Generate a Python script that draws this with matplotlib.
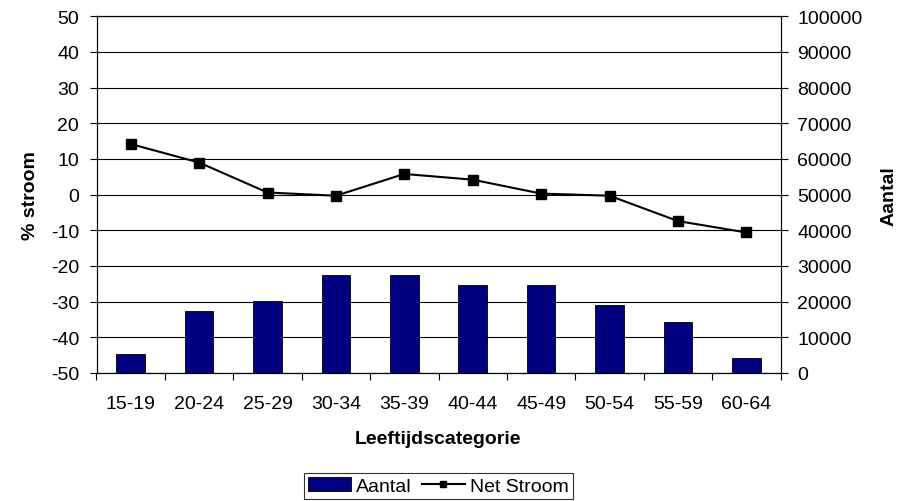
import matplotlib
matplotlib.use("Agg")
import matplotlib.pyplot as plt
from matplotlib.lines import Line2D
from matplotlib.patches import Patch

categories = ["15-19", "20-24", "25-29", "30-34", "35-39", "40-44", "45-49", "50-54", "55-59", "60-64"]
aantal = [5300, 17500, 20300, 27400, 27400, 24800, 24800, 19200, 14300, 4300]
net_stroom = [14.2, 9.0, 0.6, -0.3, 5.8, 4.2, 0.3, -0.3, -7.4, -10.6]

plt.rcParams['font.family'] = ['Liberation Sans', 'DejaVu Sans']
plt.rcParams['axes.unicode_minus'] = False
FS = 14

fig = plt.figure(figsize=(8.99, 5.02), dpi=100)
W, H = 899, 502
L, R, T, B = 96.5, 780.5, 17.3, 374
ax = fig.add_axes([L / W, 1 - B / H, (R - L) / W, (B - T) / H])
ax2 = ax.twinx()
ax.set_zorder(ax2.get_zorder() + 1)
ax.patch.set_visible(False)

x = list(range(len(categories)))

ax2.set_ylim(0, 100000)
ax2.set_yticks(range(0, 100001, 10000))
ax2.set_axisbelow(True)
ax2.yaxis.grid(True, color='black', linewidth=0.8)
ax2.bar(x, aantal, width=0.42, color='#000080', edgecolor='black', linewidth=0.6, zorder=2)

ax.plot(x, net_stroom, color='black', linewidth=1.5, marker='s', markersize=6.5,
        markerfacecolor='black', markeredgecolor='black', zorder=3)
ax.set_ylim(-50, 50)
ax.set_yticks(range(-50, 51, 10))
ax.set_xlim(-0.5, len(categories) - 0.5)

ax.set_xticks([i - 0.5 for i in range(len(categories) + 1)])
ax.set_xticklabels([])
ax.set_xticks(x, minor=True)
ax.set_xticklabels(categories, minor=True)
ax.tick_params(axis='x', which='major', length=5, width=0.8, direction='out')
ax.tick_params(axis='x', which='minor', length=0, pad=16, labelsize=FS)
ax.tick_params(axis='y', length=5, width=0.8, direction='out', labelsize=FS, pad=7.5)
ax2.tick_params(axis='y', length=5, width=0.8, direction='out', labelsize=FS, pad=7.2)

for a in (ax, ax2):
    for s in a.spines.values():
        s.set_color('black')
        s.set_linewidth(0.8)

ax.set_ylabel("% stroom", fontsize=FS, fontweight='bold')
ax.yaxis.set_label_coords((39 - L) / (R - L), 0.5)
ax2.set_ylabel("Aantal", fontsize=FS, fontweight='bold')
ax2.yaxis.set_label_coords((881 - L) / (R - L), 0.5)
ax.set_xlabel("Leeftijdscategorie", fontsize=FS, fontweight='bold')
ax.xaxis.set_label_coords(0.5, (B - 431) / (B - T))

handles = [Patch(facecolor='#000080', edgecolor='black', linewidth=0.6),
           Line2D([0], [0], color='black', linewidth=1.5, marker='s', markersize=5)]
leg = fig.legend(handles, ["Aantal", "Net Stroom"], loc='center', bbox_to_anchor=(438.5 / W, 1 - 487 / H),
                 ncol=2, frameon=True, fancybox=False, fontsize=FS, handlelength=2.2,
                 handletextpad=0.3, columnspacing=0.5, borderpad=0.2, handleheight=0.7,
                 borderaxespad=0)
leg.get_frame().set_edgecolor('black')
leg.get_frame().set_linewidth(0.8)

fig.savefig("out.png", dpi=100)
